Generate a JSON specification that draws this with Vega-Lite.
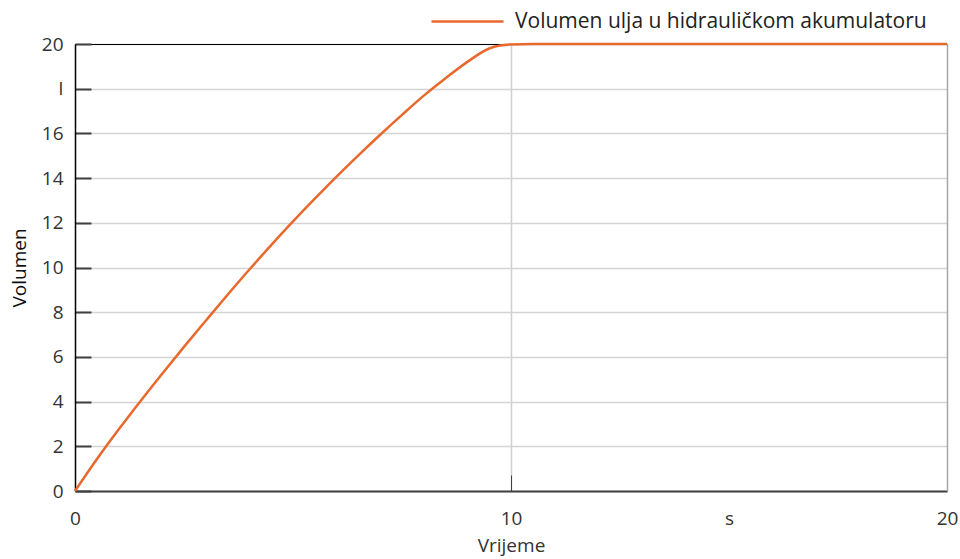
{
  "$schema": "https://vega.github.io/schema/vega-lite/v6.json",
  "width": 872,
  "height": 447,
  "autosize": {"type": "none"},
  "padding": {"left": 75, "top": 44, "right": 13, "bottom": 68},
  "config": {"view": {"stroke": null}, "font": "Open Sans"},
  "data": {
    "values": [
      {"t": 0, "v": 0},
      {"t": 0.5, "v": 1.42},
      {"t": 1.0, "v": 2.75},
      {"t": 1.5, "v": 4.02},
      {"t": 2.0, "v": 5.25},
      {"t": 2.5, "v": 6.45},
      {"t": 3.0, "v": 7.62},
      {"t": 3.5, "v": 8.78},
      {"t": 4.0, "v": 9.91},
      {"t": 4.5, "v": 11.0},
      {"t": 5.0, "v": 12.06},
      {"t": 5.5, "v": 13.08},
      {"t": 6.0, "v": 14.07},
      {"t": 6.5, "v": 15.02},
      {"t": 7.0, "v": 15.94},
      {"t": 7.5, "v": 16.83},
      {"t": 8.0, "v": 17.69},
      {"t": 8.5, "v": 18.47},
      {"t": 9.0, "v": 19.2},
      {"t": 9.5, "v": 19.8},
      {"t": 9.75, "v": 19.93},
      {"t": 10.0, "v": 19.98},
      {"t": 10.5, "v": 20},
      {"t": 20, "v": 20}
    ]
  },
  "layer": [
    {
      "mark": {"type": "line", "opacity": 0},
      "encoding": {
        "x": {"field": "t", "type": "quantitative", "scale": {"domain": [0, 20], "nice": false, "zero": false},
          "axis": {"orient": "top", "domainColor": "#000000", "domainWidth": 1, "ticks": false, "labels": false, "grid": false, "title": null}},
        "y": {"field": "v", "type": "quantitative", "scale": {"domain": [0, 20], "nice": false},
          "axis": {"orient": "right", "domainColor": "#a6a6a6", "domainWidth": 1.5, "ticks": false, "labels": false, "grid": false, "title": null}}
      }
    },
    {
      "mark": {"type": "line", "interpolate": "monotone", "strokeWidth": 2.5},
      "encoding": {
        "x": {"field": "t", "type": "quantitative", "scale": {"domain": [0, 20], "nice": false, "zero": false},
          "axis": {
            "orient": "bottom",
            "values": [0, 10, 15, 20],
            "labelExpr": "datum.value == 15 ? 's' : datum.label",
            "domainColor": "#404040", "domainWidth": 2,
            "tickColor": {"condition": {"test": "datum.value == 10", "value": "#404040"}, "value": "transparent"},
            "tickSize": -16, "tickWidth": 1,
            "grid": true,
            "gridColor": {"condition": {"test": "datum.value == 10", "value": "#cfcfcf"}, "value": "transparent"},
            "gridWidth": 1.5,
            "labelPadding": 34,
            "labelFontSize": 19, "labelColor": "#333333", "labelFlush": false,
            "title": "Vrijeme", "titleFontSize": 19, "titleFontWeight": "normal", "titleColor": "#333333", "titlePadding": 8
          }},
        "y": {"field": "v", "type": "quantitative", "scale": {"domain": [0, 20], "nice": false},
          "axis": {
            "orient": "left",
            "values": [0, 2, 4, 6, 8, 10, 12, 14, 16, 18, 20],
            "labelExpr": "datum.value == 18 ? 'I' : datum.label",
            "domainColor": "#000000", "domainWidth": 1.5,
            "tickColor": "#404040", "tickSize": -16, "tickWidth": 2,
            "grid": true, "gridColor": "#d4d4d4", "gridWidth": 1.5,
            "labelPadding": 28,
            "labelFontSize": 19, "labelColor": "#333333",
            "title": "Volumen", "titleFontSize": 19, "titleFontWeight": 500, "titleColor": "#111111", "titlePadding": 12
          }},
        "color": {
          "datum": "Volumen ulja u hidrauličkom akumulatoru",
          "type": "nominal",
          "scale": {"range": ["#e8692e"]},
          "legend": {
            "title": null, "orient": "none", "legendX": 355, "legendY": -60,
            "symbolType": "stroke", "symbolSize": 5184, "symbolStrokeWidth": 2.5,
            "labelFontSize": 21, "labelColor": "#222222", "labelOffset": 10, "padding": 0,
            "labelLimit": 600
          }
        }
      }
    }
  ],
  "resolve": {"axis": {"x": "independent", "y": "independent"}}
}
